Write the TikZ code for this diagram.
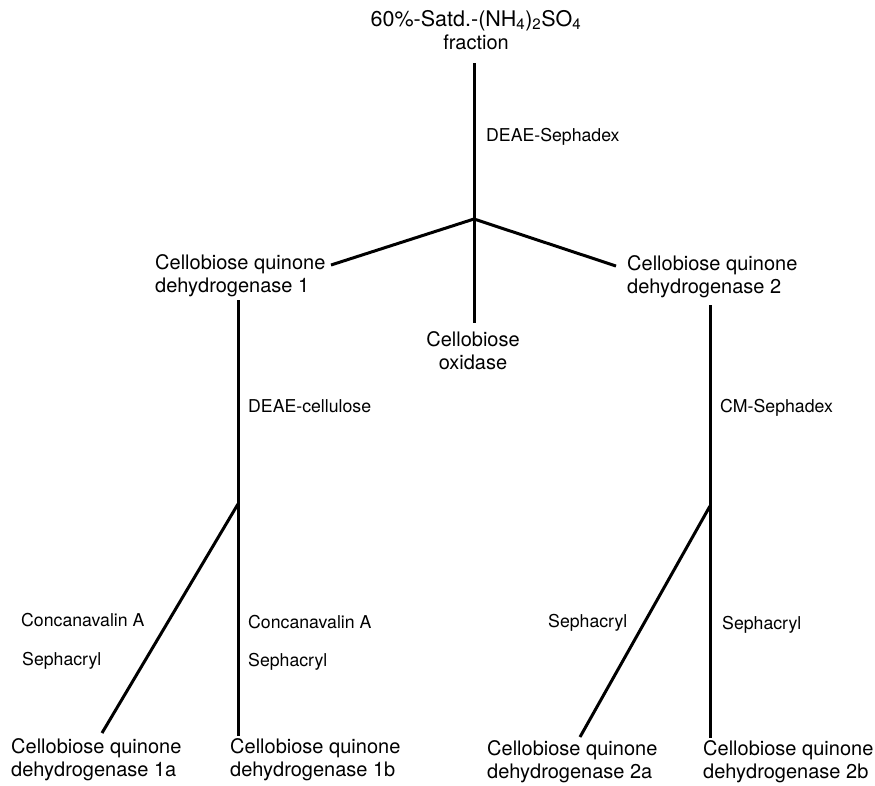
\documentclass[tikz,border=0pt]{standalone}
\usepackage{fontspec}
\setmainfont{TeX Gyre Heros}
\begin{document}
\begin{tikzpicture}[x=1pt,y=-1pt,
  lbl/.style={inner sep=0pt,font=\fontsize{20}{23}\selectfont},
  step lbl/.style={inner sep=0pt,anchor=west,font=\fontsize{17.7}{20}\selectfont},
  conn/.style={line width=3pt}]
\useasboundingbox (0,0) rectangle (875,785);
% nodes
\node[lbl,align=center] (top) at (476,30) {\fontsize{21.5}{25}\selectfont 60\%-Satd.-(NH\textsubscript{4})\textsubscript{2}SO\textsubscript{4}\\fraction};
\node[lbl,align=left,anchor=west] (q1) at (155,276) {Cellobiose quinone\\dehydrogenase 1};
\node[lbl,align=center] (ox) at (473,351) {Cellobiose\\oxidase};
\node[lbl,align=left,anchor=west] (q2) at (627,277) {Cellobiose quinone\\dehydrogenase 2};
\node[lbl,align=left,anchor=west] (q1a) at (11,760) {Cellobiose quinone\\dehydrogenase 1a};
\node[lbl,align=left,anchor=west] (q1b) at (230,760) {Cellobiose quinone\\dehydrogenase 1b};
\node[lbl,align=left,anchor=west] (q2a) at (487,762) {Cellobiose quinone\\dehydrogenase 2a};
\node[lbl,align=left,anchor=west] (q2b) at (703,762) {Cellobiose quinone\\dehydrogenase 2b};
% junctions and free ends
\coordinate (J) at (474,219);
\coordinate (topend) at (474,63);
\coordinate (q1end) at (331,265);
\coordinate (q2end) at (616,266);
\coordinate (oxend) at (474,323);
\coordinate (L0) at (238,300);
\coordinate (LJ) at (238,504);
\coordinate (Lb) at (238,736);
\coordinate (La) at (102,733);
\coordinate (R0) at (710,305);
\coordinate (RJ) at (710,506);
\coordinate (Rb) at (710,738);
\coordinate (Ra) at (580,737);
% connectors
\draw[conn] (topend) -- (J);
\draw[conn] (J) -- (q1end);
\draw[conn] (J) -- (q2end);
\draw[conn] (J) -- (oxend);
\draw[conn] (L0) -- (LJ) -- (Lb);
\draw[conn] (LJ) -- (La);
\draw[conn] (R0) -- (RJ) -- (Rb);
\draw[conn] (RJ) -- (Ra);
% step labels
\node[step lbl] (s1) at (486,137) {DEAE-Sephadex};
\node[step lbl] (s2) at (248,406) {DEAE-cellulose};
\node[step lbl] (s3) at (720,408) {CM-Sephadex};
\node[step lbl] (s4) at (21,620) {Concanavalin A};
\node[step lbl] (s5) at (22,661) {Sephacryl};
\node[step lbl] (s6) at (248,622) {Concanavalin A};
\node[step lbl] (s7) at (248,662) {Sephacryl};
\node[step lbl] (s8) at (548,623) {Sephacryl};
\node[step lbl] (s9) at (722,625) {Sephacryl};
\end{tikzpicture}
\end{document}
